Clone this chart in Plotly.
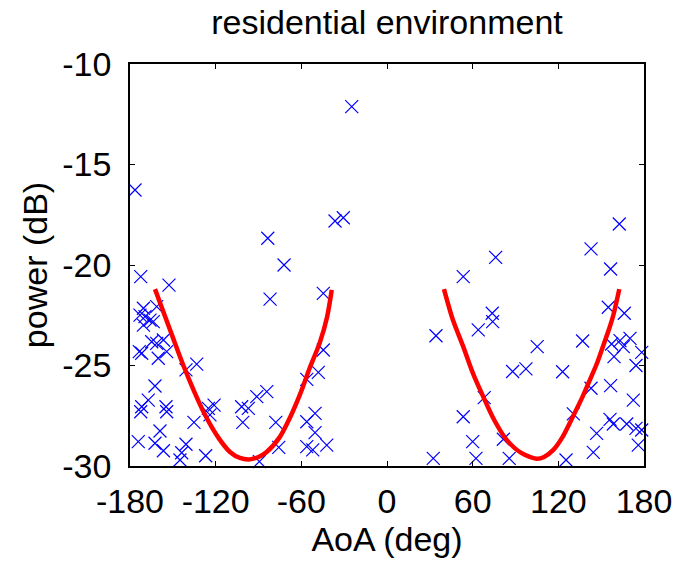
import plotly.graph_objects as go

# measured scatter points (AoA deg, power dB)
aoa_pts = [
    -176.5, -83.5, -72.1,
    -172.5, -152.7, -81.9,
    -170.6, -173.0, -169.5, -166.0, -163.7, -170.6, -161.3, -164.8, -171.8,
    -156.6, -161.3, -154.3, -160.2, -173.5,
    -140.8, -133.3, -162.5, -167.2, -171.8, -172.5, -154.8, -154.3, -159.0,
    -135.2, -125.1, -121.1, -124.0, -101.8, -97.1, -91.2, -84.2, -101.0, -77.9,
    -174.2, -162.5, -156.6, -140.8, -143.8, -145.0, -127.0, -89.4, -75.8,
    -24.7, -36.4, -30.6, -44.6, -44.6, -48.1, -56.2, -50.4, -56.2, -50.4,
    -56.2, -52.0, -42.2,
    32.4, 34.3, 53.4, 53.4,
    162.7, 142.9, 76.1, 156.6, 155.0, 166.2, 73.7, 74.0, 63.9, 105.2, 137.0,
    157.3, 163.2, 170.2, 165.5, 159.0, 178.4, 174.4, 88.0, 97.3, 123.0, 142.9,
    156.6, 68.1, 172.5, 130.5, 156.2, 158.5, 167.9, 174.4, 178.4, 146.8, 60.0,
    81.5, 176.0, 62.3, 85.6, 125.4, 144.5,
]
power_pts = [
    -16.27, -18.67, -20.0,
    -20.58, -21.0, -21.7,
    -22.15, -22.49, -22.57, -22.74, -22.82, -22.99, -22.07, -23.82, -24.39,
    -23.73, -23.9, -24.31, -24.64, -24.31,
    -25.22, -24.93, -26.02, -26.72, -27.05, -27.3, -27.05, -27.3, -28.26,
    -27.83, -27.13, -26.97, -27.46, -27.05, -27.13, -26.55, -26.3, -27.83, -27.83,
    -28.79, -28.87, -29.24, -28.92, -29.34, -29.7, -29.49, -29.78, -29.07,
    -12.12, -17.81, -17.65, -21.41, -24.23, -25.34, -25.69, -27.38, -27.8, -28.34,
    -29.04, -29.2, -28.96,
    -29.62, -23.52, -20.58, -27.55,
    -17.96, -19.2, -19.62, -20.2, -22.1, -22.4, -22.4, -22.82, -23.23, -24.06, -23.78,
    -23.93, -23.76, -23.65, -24.06, -24.56, -24.35, -25.0, -25.3, -25.17, -25.31, -26.13,
    -26.0, -26.6, -26.72, -27.41, -27.68, -27.91, -27.91, -28.13, -28.21, -28.38, -28.79,
    -28.67, -28.96, -29.62, -29.62, -29.7, -29.32,
]

# fitted curves
left_aoa = [-162.5, -156, -150, -142.6, -135, -127.5, -118, -110, -103, -96, -90, -84.3, -75, -68, -61, -54, -47, -42, -38.7]
left_pow = [-21.2, -22.45, -23.6, -25.0, -26.3, -27.45, -28.6, -29.3, -29.6, -29.67, -29.55, -29.3, -28.55, -27.6, -26.45, -25.1, -23.85, -22.6, -21.24]
right_aoa = [39.9, 46, 53.4, 60, 67.4, 75, 83.8, 94, 104.8, 110, 116.5, 123, 130.5, 137, 142.2, 147, 151.5, 155, 158.5, 162.7]
right_pow = [-21.2, -22.7, -24.06, -25.35, -26.55, -27.7, -28.7, -29.35, -29.64, -29.55, -29.2, -28.55, -27.5, -26.55, -25.7, -24.9, -24.0, -23.3, -22.5, -21.2]

x_ticks = [-180, -120, -60, 0, 60, 120, 180]
y_ticks = [-30, -25, -20, -15, -10]

FONT = "Liberation Sans, Arial, sans-serif"
FS = 34

fig = go.Figure()
fig.add_trace(go.Scatter(
    x=aoa_pts, y=power_pts, mode="markers",
    marker=dict(symbol="x-thin", size=13, line=dict(color="rgb(0,0,255)", width=1.2)),
    showlegend=False, cliponaxis=False,
))
fig.add_trace(go.Scatter(x=left_aoa, y=left_pow, mode="lines", line=dict(color="rgb(255,0,0)", width=4.5, shape="spline", smoothing=0.8), showlegend=False))
fig.add_trace(go.Scatter(x=right_aoa, y=right_pow, mode="lines", line=dict(color="rgb(255,0,0)", width=4.5, shape="spline", smoothing=0.8), showlegend=False))

axis_common = dict(
    showgrid=False, zeroline=False, showline=True, linecolor="black", linewidth=1.5,
    mirror="ticks", ticks="inside", ticklen=5, tickcolor="black", tickwidth=1,
    tickfont=dict(family=FONT, size=FS, color="black"),
)
fig.update_xaxes(range=[-180, 180], tickvals=x_ticks, ticktext=[str(v) for v in x_ticks],
                 title=dict(text="AoA (deg)", font=dict(family=FONT, size=FS, color="black"), standoff=6),
                 ticklabelstandoff=4, **axis_common)
fig.update_yaxes(range=[-30, -10], tickvals=y_ticks, ticktext=[str(v) for v in y_ticks],
                 title=dict(text="power (dB)", font=dict(family=FONT, size=FS, color="black"), standoff=4),
                 ticklabelstandoff=10, **axis_common)

fig.update_layout(
    width=683, height=566,
    margin=dict(l=130, r=39, t=64, b=100),
    paper_bgcolor="white", plot_bgcolor="white",
    title=dict(text="residential environment", font=dict(family=FONT, size=FS, color="black"),
               x=0.5, xanchor="center", xref="paper", y=1 - 22 / 566, yanchor="middle", yref="container"),
)

fig.write_html("out.html")
